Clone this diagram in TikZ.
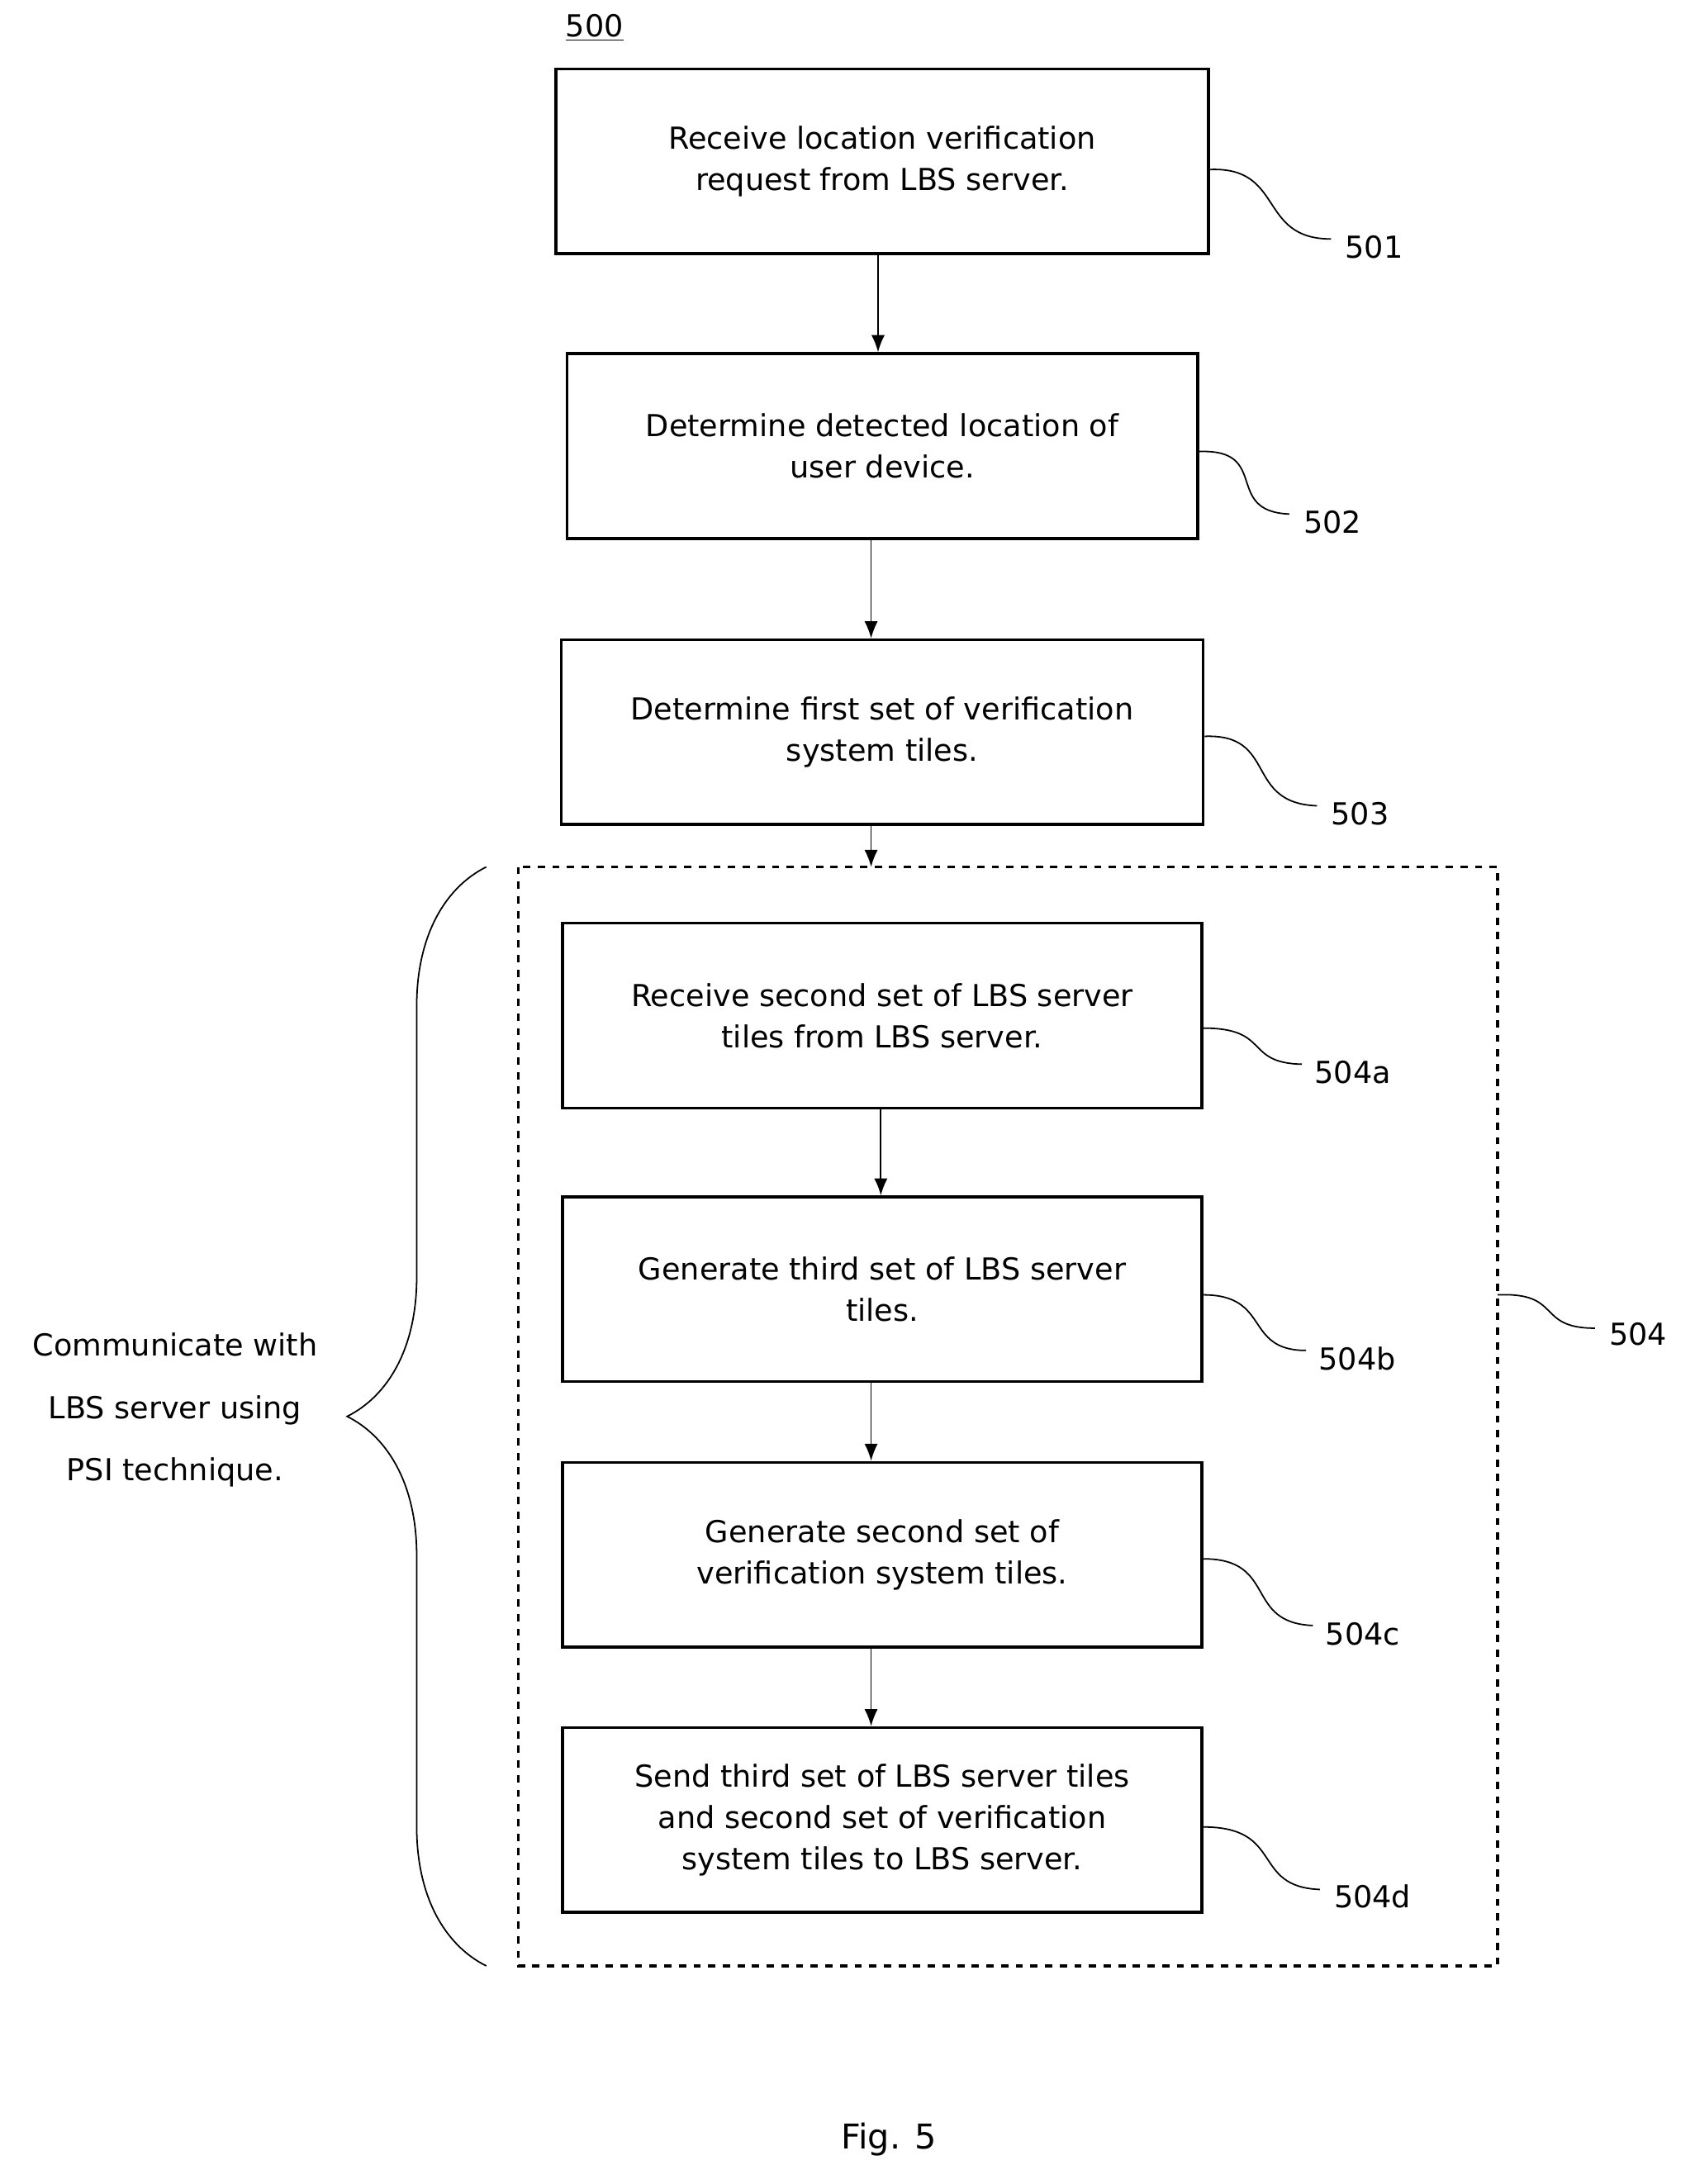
\documentclass[tikz,border=0pt]{standalone}
\usepackage{fontspec}
\setmainfont{DejaVu Sans}
\usetikzlibrary{decorations.pathreplacing,arrows.meta}

\begin{document}
\begin{tikzpicture}[x=0.02cm,y=-0.02cm,>={Latex[length=7pt,width=5.5pt]},
    font=\fontsize{12.4}{17}\selectfont,
    stepbox/.style={draw,very thick,align=center,minimum height=2.66cm},
    ref/.style={anchor=west},
    lead/.style={semithick}]
    \useasboundingbox (0,0) rectangle (1220,1572);

    \node[stepbox, minimum width=9.4cm] (s_1) at (635,116) {Receive location verification\\request from LBS server.};
    \node[stepbox, minimum width=9.08cm] (s_2) at (635,321) {Determine detected location of\\user device.};
    \node[stepbox, minimum width=9.24cm] (s_3) at (635,527) {Determine first set of verification\\system tiles.};
    \draw[very thick,dashed] (373,624) rectangle (1078,1415);
    \coordinate (g) at (627,624);
    \node[stepbox, minimum width=9.2cm] (s_4a) at (635,731) {Receive second set of LBS server\\tiles from LBS server.};
    \node[stepbox, minimum width=9.2cm] (s_4b) at (635,928) {Generate third set of LBS server\\tiles.};
    \node[stepbox, minimum width=9.2cm] (s_4c) at (635,1119) {Generate second set of\\verification system tiles.};
    \node[stepbox, minimum width=9.2cm] (s_4d) at (635,1310) {Send third set of LBS server tiles\\and second set of verification\\system tiles to LBS server.};

    \draw[->,semithick] (s_1.south -| 632,0) -- (s_2.north -| 632,0);
    \draw[->,semithick] (s_2.south -| 627,0) -- (s_3.north -| 627,0);
    \draw[->,semithick] (s_3.south -| 627,0) -- (g);
    \draw[->,semithick] (s_4a.south -| 634,0) -- (s_4b.north -| 634,0);
    \draw[->,semithick] (s_4b.south -| 627,0) -- (s_4c.north -| 627,0);
    \draw[->,semithick] (s_4c.south -| 627,0) -- (s_4d.north -| 627,0);

    % reference numerals
    \node (n_0) at (428,20) {\underline{500}};
    \node[ref] (n_1) at (962,178) {501};
    \node[ref] (n_2) at (932,376) {502};
    \node[ref] (n_3) at (952,586) {503};
    \node[ref] (n_4a) at (940,772) {504a};
    \node[ref] (n_4b) at (943,978) {504b};
    \node[ref] (n_4c) at (948,1176) {504c};
    \node[ref] (n_4d) at (954,1365) {504d};
    \node[ref] (n_4) at (1152,960) {504};
    \draw[lead] (s_1.east |- 0,122) .. controls (925,120) and (905,172) .. (958,172);
    \draw[lead] (s_2.east |- 0,325) .. controls (915,323) and (880,368) .. (928,370);
    \draw[lead] (s_3.east |- 0,530) .. controls (920,528) and (895,578) .. (948,580);
    \draw[lead] (s_4a.east |- 0,740) .. controls (915,740) and (895,765) .. (937,766);
    \draw[lead] (s_4b.east |- 0,932) .. controls (915,932) and (895,972) .. (940,972);
    \draw[lead] (s_4c.east |- 0,1122) .. controls (920,1122) and (895,1168) .. (945,1170);
    \draw[lead] (s_4d.east |- 0,1315) .. controls (925,1315) and (900,1358) .. (950,1360);
    \draw[lead] (1078,932) .. controls (1125,930) and (1105,956) .. (1148,956);

    \draw[semithick,decorate,decoration={brace,amplitude=57pt,mirror}] (350,624) -- (350,1415);
    \node[align=center,font=\fontsize{12.4}{25.5}\selectfont] (psi) at (126,1015) {Communicate with\\LBS server using\\PSI technique.};

    \node[font=\fontsize{14}{16}\selectfont] (fig) at (640,1540) {Fig. 5};
\end{tikzpicture}
\end{document}
